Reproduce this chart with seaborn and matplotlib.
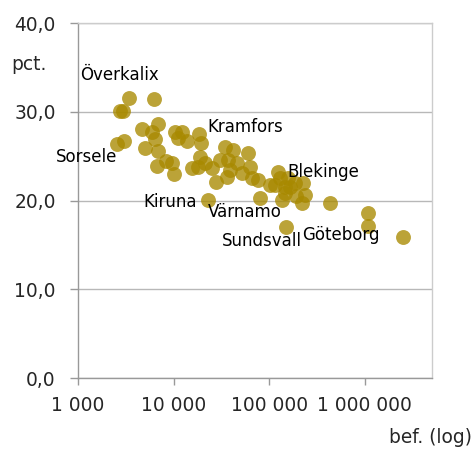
import numpy as np
import pandas as pd
import matplotlib
matplotlib.use("Agg")
import matplotlib.pyplot as plt
import matplotlib.ticker as mticker
import seaborn as sns

# ── DATA (population, percent) ─────────────────────────────
population = [
    3410, 6220, 2750, 2950, 2555, 3030, 4670, 6850, 5930, 6380,
    5010, 6850, 6690, 8310, 9600, 10070, 10320, 12220, 11090, 13770,
    18380, 19280, 15520, 18840, 17950, 21240, 25120, 27670, 22800, 34360,
    41680, 59730, 30480, 36900, 45810, 36060, 62650, 51760, 76050, 65800,
    38730, 79750, 129100, 114300, 135500, 149000, 164000, 219000, 185000, 224000,
    235000, 145500, 429500, 1071000, 1071000, 2490000, 123000, 156400, 101400, 145500,
    189700,
]
percent = [
    31.6, 31.5, 30.1, 30.1, 26.4, 26.7, 28.1, 28.6, 27.7, 26.9,
    25.9, 25.6, 23.9, 24.5, 24.2, 23.0, 27.7, 27.7, 27.1, 26.7,
    27.5, 26.5, 23.7, 24.9, 23.8, 24.2, 23.7, 22.1, 20.1, 26.0,
    25.7, 25.4, 24.6, 24.6, 24.2, 22.7, 23.8, 23.1, 22.3, 22.5,
    23.4, 20.3, 22.5, 21.8, 20.1, 17.0, 21.5, 19.7, 22.0, 22.0,
    20.6, 21.5, 19.7, 18.6, 17.1, 15.9, 23.2, 22.5, 21.8, 20.9,
    20.5,
]

label_names = ["Överkalix", "Sorsele", "Kramfors", "Kiruna",
               "Värnamo", "Blekinge", "Sundsvall", "Göteborg"]
label_x = [1049, 2556, 22300, 17500, 22800, 156000, 219000, 219000]
label_y = [34.2, 24.9, 28.3, 19.8, 18.7, 23.2, 15.4, 16.1]
label_ha = ["left", "right", "left", "right", "left", "left", "right", "left"]

x_ticks = [1000, 10000, 100000, 1000000]
y_ticks = [0, 10, 20, 30, 40]

df = pd.DataFrame({"bef": population, "pct": percent})

# ── STYLE ──────────────────────────────────────────────────
sns.set_style("white")
plt.rcParams["font.family"] = ["DejaVu Sans"]

fig = plt.figure(figsize=(4.73, 4.49), dpi=100)
ax = fig.add_axes([0.165, 0.158, 0.7477, 0.7906])

sns.scatterplot(
    data=df, x="bef", y="pct",
    color="#A88900", alpha=0.78, s=115, linewidth=0,
    ax=ax, legend=False
)

ax.set_xscale("log")
ax.set_xlim(1000, 5000000)
ax.set_ylim(0, 40)
ax.set_xticks(x_ticks)
ax.set_yticks(y_ticks)
ax.xaxis.set_minor_locator(mticker.NullLocator())
ax.xaxis.set_major_formatter(
    mticker.FuncFormatter(lambda v, p: f"{int(round(v)):,}".replace(",", " "))
)
ax.yaxis.set_major_formatter(
    mticker.FuncFormatter(lambda v, p: f"{v:.1f}".replace(".", ","))
)
ax.set_xlabel("")
ax.set_ylabel("")

ax.grid(axis="y", color="#b8b8b8", linewidth=1.0)
ax.grid(axis="x", visible=False)
ax.set_axisbelow(True)

for side in ["top", "right"]:
    ax.spines[side].set_color("#cccccc")
    ax.spines[side].set_linewidth(1.0)
for side in ["left", "bottom"]:
    ax.spines[side].set_color("#999999")
    ax.spines[side].set_linewidth(1.0)

ax.tick_params(axis="y", length=6, width=1, color="#999999",
               direction="out", pad=10, labelsize=13.4, left=True)
ax.tick_params(axis="x", length=5, width=1, color="#999999",
               direction="out", pad=8, labelsize=13.4, bottom=True)

for name, lx, ly, ha in zip(label_names, label_x, label_y, label_ha):
    ax.text(lx, ly, name, ha=ha, va="center", fontsize=12, color="black")

fig.text(0.023, 0.857, "pct.", ha="left", va="center", fontsize=13.4)
fig.text(0.998, 0.0245, "bef. (log)", ha="right", va="center", fontsize=13.4)

plt.savefig("out.png", dpi=100)
